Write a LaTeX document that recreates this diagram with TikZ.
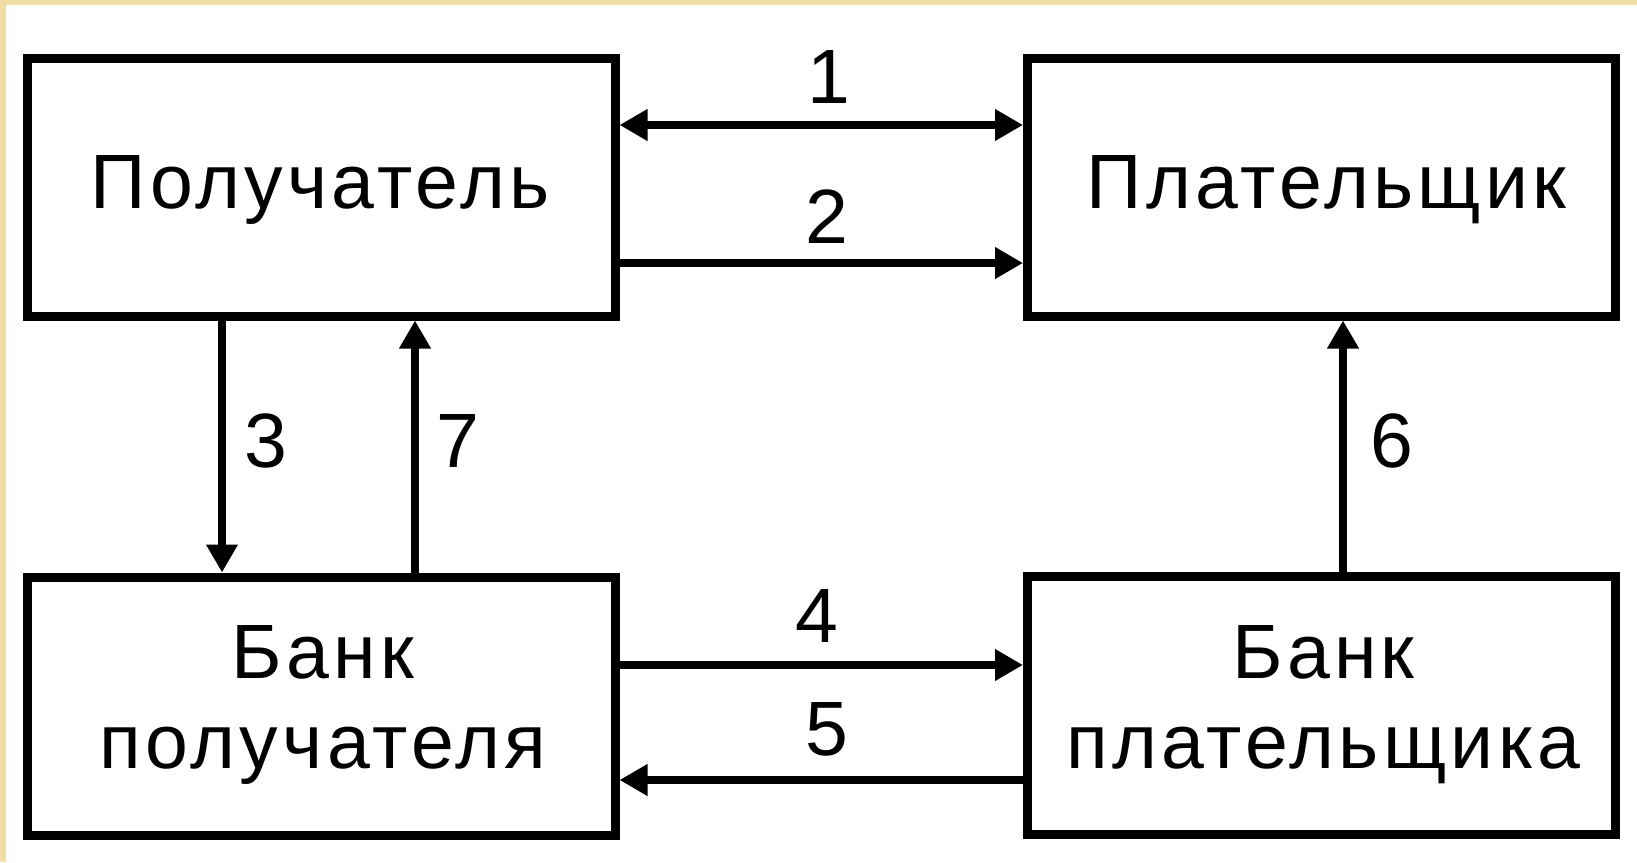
\documentclass[tikz,border=0pt]{standalone}
\usepackage{fontspec}
\setmainfont{Liberation Sans}
\newfontfamily\spacedfont[LetterSpace=5.5]{Liberation Sans}
\usetikzlibrary{arrows.meta,calc}
\definecolor{beige}{RGB}{240,222,165}
\tikzset{
  box/.style={draw=black, line width=9pt, fill=white, rectangle, minimum width=588pt, minimum height=258pt, outer sep=0pt, inner sep=0pt},
  txt/.style={font=\spacedfont\fontsize{77pt}{90pt}\selectfont, inner sep=0pt, anchor=base},
  num/.style={font=\fontsize{77pt}{90pt}\selectfont, inner sep=0pt, anchor=base},
  conn/.style={line width=8pt, -{Triangle[length=28pt,width=30pt]}, shorten >=4.5pt},
  conn2/.style={line width=8pt, {Triangle[length=28pt,width=30pt]}-{Triangle[length=28pt,width=30pt]}, shorten >=4.5pt, shorten <=4.5pt}
}
\begin{document}
\begin{tikzpicture}[x=1pt,y=-1pt]
\fill[beige] (0,0) rectangle (1637,862);
\fill[white] (6,5) rectangle (1637,862);
\useasboundingbox (0,0) rectangle (1637,862);
\node[box] (b1) at (321,187) {};
\node[box] (b2) at (1321.5,187) {};
\node[box] (b3) at (321,706) {};
\node[box] (b4) at (1321.5,705) {};
\node[txt] (t1) at ($(b1.center)+(-1,21)$) {Получатель};
\node[txt] (t2) at ($(b2.center)+(5,21)$) {Плательщик};
\node[txt] (t3a) at ($(b3.center)+(2,-28)$) {Банк};
\node[txt] (t3b) at ($(b3.center)+(2,62)$) {получателя};
\node[txt] (t4a) at ($(b4.center)+(2,-27)$) {Банк};
\node[txt] (t4b) at ($(b4.center)+(2,63)$) {плательщика};
\draw[conn2] (b1.east |- 0,125) -- (b2.west |- 0,125);
\draw[conn] (b1.east |- 0,263) -- (b2.west |- 0,263);
\draw[conn] (b1.south -| 222,0) -- (b3.north -| 222,0);
\draw[conn] (b3.north -| 415,0) -- (b1.south -| 415,0);
\draw[conn] (b4.north -| 1343,0) -- (b2.south -| 1343,0);
\draw[conn] (b3.east |- 0,665) -- (b4.west |- 0,665);
\draw[conn] (b4.west |- 0,780) -- (b3.east |- 0,780);
\node[num] (n1) at (829,103) {1};
\node[num] (n2) at (827,243) {2};
\node[num] (n3) at (266,467) {3};
\node[num] (n7) at (458,467) {7};
\node[num] (n6) at (1392,467) {6};
\node[num] (n4) at (817,642) {4};
\node[num] (n5) at (827,755) {5};
\end{tikzpicture}
\end{document}
